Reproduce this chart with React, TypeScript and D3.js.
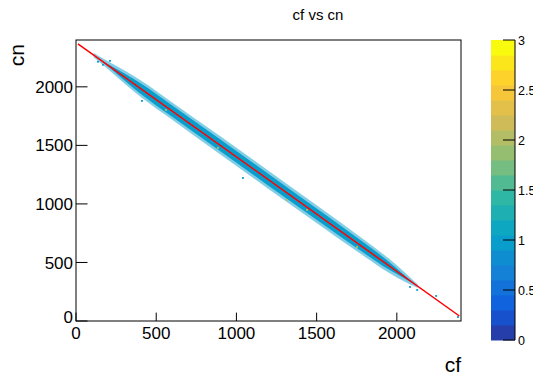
import React from "react";
import * as d3 from "d3";

// ---- data -------------------------------------------------------------
// Linear fit drawn over the histogram: cn = fitIntercept + fitSlope * cf
const fitIntercept = 2379;
const fitSlope = -0.9775;
const fitRange = [12, 2390];

// Occupancy band of the 2D histogram around the fit (cn residuals)
const bandCf = [110, 200, 300, 400, 600, 900, 1200, 1500, 1800, 1950, 2050, 2130];
const bandCore = [0, 10, 30, 44, 48, 50, 50, 48, 44, 34, 14, 0];
const bandHalo = [18, 34, 56, 70, 74, 78, 78, 76, 70, 60, 40, 14];

// Isolated cells with content 1
const strayCf = [137, 168, 212, 411, 1041, 2082, 2127, 2245, 2381];
const strayCn = [2214, 2188, 2222, 1880, 1222, 291, 265, 214, 34];

// Cells with content 2
const highCf = [561, 885, 1315, 1440, 1752];
const highCn = [1803, 1479, 1034, 949, 632];

const xTicks = [0, 500, 1000, 1500, 2000];
const yTicks = [0, 500, 1000, 1500, 2000];
const zTicks = [0, 0.5, 1, 1.5, 2, 2.5, 3];
const zMax = 3;
const nContours = 20;

// ---- ROOT kBird palette ----------------------------------------------
const birdStops = [0, 0.125, 0.25, 0.375, 0.5, 0.625, 0.75, 0.875, 1];
const birdR = [0.2082, 0.0592, 0.078, 0.0232, 0.1802, 0.5301, 0.8186, 0.9956, 0.9764];
const birdG = [0.1664, 0.3599, 0.5041, 0.6419, 0.7178, 0.7492, 0.7328, 0.7862, 0.9832];
const birdB = [0.5293, 0.8684, 0.8385, 0.7914, 0.6425, 0.4662, 0.3499, 0.1968, 0.0539];

function bird(f: number): string {
  const t = Math.max(0, Math.min(1, f));
  let i = 0;
  while (i < birdStops.length - 2 && t > birdStops[i + 1]) i++;
  const u = (t - birdStops[i]) / (birdStops[i + 1] - birdStops[i]);
  const c = (a: number[]) => Math.round(255 * (a[i] + u * (a[i + 1] - a[i])));
  return `rgb(${c(birdR)},${c(birdG)},${c(birdB)})`;
}

const contourColor = (i: number) => bird((i + 0.99) / nContours);
const valueColor = (v: number) =>
  contourColor(Math.min(nContours - 1, Math.floor((v / zMax) * nContours)));

// ---- layout ------------------------------------------------------------
const W = 533;
const H = 379;
const frame = { left: 76, right: 461, top: 40, bottom: 321 };
const bar = { left: 491, right: 515, top: 40, bottom: 340 };
const binW = 12;
const binH = 15;
const font = "'Liberation Sans', Arial, Helvetica, sans-serif";

export default function App() {
  const x = d3.scaleLinear().domain([0, 2400]).range([frame.left, frame.right]);
  const y = d3.scaleLinear().domain([0, 2400]).range([frame.bottom, frame.top]);
  const z = d3.scaleLinear().domain([0, zMax]).range([bar.bottom, bar.top]);
  const fit = (cf: number) => fitIntercept + fitSlope * cf;

  const idx = d3.range(bandCf.length);
  const areaOf = (half: number[]) =>
    d3
      .area<number>()
      .x((i) => x(bandCf[i]))
      .y0((i) => y(fit(bandCf[i]) - half[i]))
      .y1((i) => y(fit(bandCf[i]) + half[i]))
      .curve(d3.curveMonotoneX)(idx) || "";

  const c1 = valueColor(1);
  const c2 = valueColor(2);
  const cellW = x(binW) - x(0);
  const cellH = y(0) - y(binH);

  const xTickLen = 8.4;
  const yTickLen = 11.5;

  return (
    <div style={{ position: "fixed", left: 0, top: 0 }}>
      <svg width={W} height={H} style={{ display: "block", background: "#fff" }}>
        <rect x={0} y={0} width={W} height={H} fill="#fff" />
        <defs>
          <clipPath id="frameClip">
            <rect
              x={frame.left}
              y={frame.top}
              width={frame.right - frame.left}
              height={frame.bottom - frame.top}
            />
          </clipPath>
        </defs>

        {/* histogram cells */}
        <g clipPath="url(#frameClip)">
          <path d={areaOf(bandHalo)} fill={c1} fillOpacity={0.5} />
          <path d={areaOf(bandCore)} fill={c1} />
          {strayCf.map((cf, i) => (
            <rect
              key={"s" + i}
              x={x(cf) - cellW / 2}
              y={y(strayCn[i]) - cellH / 2}
              width={cellW}
              height={cellH}
              fill={c1}
            />
          ))}
          {highCf.map((cf, i) => (
            <rect
              key={"h" + i}
              x={x(cf) - cellW / 2}
              y={y(highCn[i]) - cellH / 2}
              width={cellW}
              height={cellH}
              fill={c2}
            />
          ))}
          <line
            x1={x(fitRange[0])}
            y1={y(fit(fitRange[0]))}
            x2={x(fitRange[1])}
            y2={y(fit(fitRange[1]))}
            stroke="#ff0000"
            strokeWidth={1.5}
          />
        </g>

        {/* frame */}
        <rect
          x={frame.left}
          y={frame.top}
          width={frame.right - frame.left}
          height={frame.bottom - frame.top}
          fill="none"
          stroke="#000"
          strokeWidth={1}
        />

        {/* x axis */}
        {xTicks.map((t) => (
          <g key={"x" + t}>
            <line
              x1={x(t)}
              x2={x(t)}
              y1={frame.bottom}
              y2={frame.bottom - xTickLen}
              stroke="#000"
            />
            <text
              x={x(t)}
              y={339}
              textAnchor="middle"
              fontFamily={font}
              fontSize={17}
              fill="#000"
            >
              {t}
            </text>
          </g>
        ))}

        {/* y axis */}
        {yTicks.map((t) => (
          <g key={"y" + t}>
            <line
              x1={frame.left}
              x2={frame.left + yTickLen}
              y1={y(t)}
              y2={y(t)}
              stroke="#000"
            />
            <text
              x={73}
              y={y(t) - (t === 0 ? 4 : 0)}
              dy="0.36em"
              textAnchor="end"
              fontFamily={font}
              fontSize={17}
              fill="#000"
            >
              {t}
            </text>
          </g>
        ))}

        {/* titles */}
        <text x={318} y={20} textAnchor="middle" fontFamily={font} fontSize={15} fill="#000">
          cf vs cn
        </text>
        <text
          transform={`translate(24,${frame.top + 4}) rotate(-90)`}
          textAnchor="end"
          fontFamily={font}
          fontSize={21}
          fill="#000"
        >
          cn
        </text>
        <text x={frame.right} y={372} textAnchor="end" fontFamily={font} fontSize={21} fill="#000">
          cf
        </text>

        {/* colour palette */}
        {d3.range(nContours).map((i) => (
          <rect
            key={"c" + i}
            x={bar.left}
            y={z(((i + 1) * zMax) / nContours)}
            width={bar.right - bar.left}
            height={z((i * zMax) / nContours) - z(((i + 1) * zMax) / nContours) + 0.5}
            fill={contourColor(i)}
          />
        ))}
        <line x1={bar.right} x2={bar.right} y1={bar.top} y2={bar.bottom} stroke="#000" />
        {zTicks.map((t) => (
          <g key={"z" + t}>
            <line x1={bar.right} x2={bar.right - 12} y1={z(t)} y2={z(t)} stroke="#000" />
            <text
              x={bar.right + 3}
              y={z(t)}
              dy="0.36em"
              fontFamily={font}
              fontSize={12.5}
              fill="#000"
            >
              {t}
            </text>
          </g>
        ))}
      </svg>
    </div>
  );
}
